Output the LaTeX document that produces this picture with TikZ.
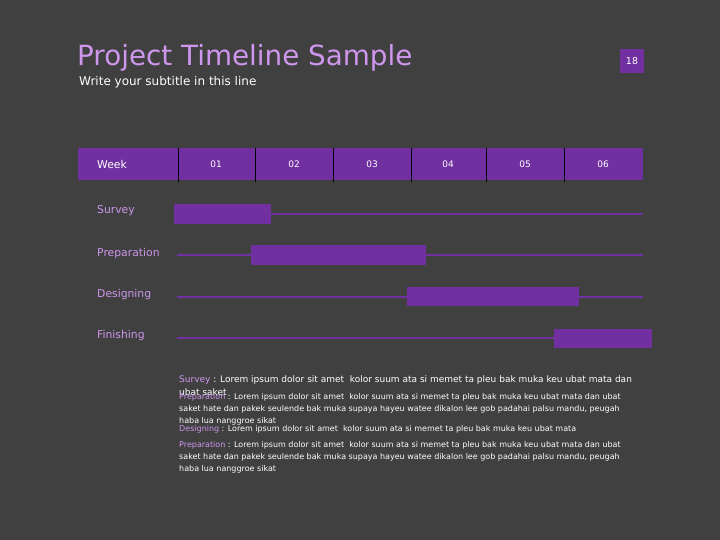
\documentclass[tikz,border=0pt]{standalone}
\usepackage{fontspec}
\setmainfont{DejaVu Sans}
\definecolor{bgdark}{RGB}{64,64,64}
\definecolor{taskpurple}{RGB}{112,48,160}
\definecolor{lilac}{RGB}{206,150,236}

\begin{document}
\begin{tikzpicture}[x=1pt,y=-1pt,
	weeklab/.style={text=white,font=\fontsize{9}{10}\selectfont,inner sep=0},
	tasklab/.style={anchor=base west,text=lilac,font=\fontsize{10.8}{12}\selectfont,inner sep=0},
	taskbar/.style={fill=taskpurple},
	taskline/.style={draw=taskpurple,line width=1.1pt},
	notes/.style={anchor=base west,text=white,inner sep=0,align=left}]
	\fill[bgdark] (0,0) rectangle (720,540);
	\useasboundingbox (0,0) rectangle (720,540);
	
	% title
	\node[anchor=base west,text=lilac,font=\fontsize{27.8}{30}\selectfont,inner sep=0] (title) at (77,66) {Project Timeline Sample};
	\node[anchor=base west,text=white,font=\fontsize{12}{14}\selectfont,inner sep=0] (subtitle) at (79,86) {Write your subtitle in this line};
	\node[fill=taskpurple,minimum width=24,minimum height=24,inner sep=0,text=white,font=\fontsize{9.5}{10}\selectfont] (pagenum) at (632,61) {18};
	
	% week header
	\fill[taskpurple] (78,148) rectangle (643,180);
	\foreach \x in {178,255,333,411,486,564}
		\draw[black,line width=0.6pt] (\x,148) -- (\x,182);
	\node[anchor=west,text=white,font=\fontsize{10.8}{12}\selectfont,inner sep=0] (week) at (97,164) {Week};
	\foreach \x/\w in {216/01,294/02,372/03,448/04,525/05,603/06}
		\node[weeklab] (w\w) at (\x,164) {\w};
	
	% tasks
	\node[tasklab] (survey) at (97,214) {Survey};
	\node[tasklab] (prep) at (97,256) {Preparation};
	\node[tasklab] (design) at (97,297) {Designing};
	\node[tasklab] (finish) at (97,338) {Finishing};
	
	\draw[taskline] (271,214) -- (643,214);
	\draw[taskline] (177,255) -- (643,255);
	\draw[taskline] (177,297) -- (643,297);
	\draw[taskline] (177,338) -- (643,338);
	
	\fill[taskbar] (174,204) rectangle (271,224);
	\fill[taskbar] (251,245) rectangle (426,265);
	\fill[taskbar] (407,287) rectangle (579,306);
	\fill[taskbar] (554,329) rectangle (652,348);
	
	% notes (anchored on the baseline of their last line)
	\node[notes,font=\fontsize{9}{13}\selectfont] (n1) at (179,395)
		{\textcolor{lilac}{Survey} : Lorem ipsum dolor sit amet\ \ kolor suum ata si memet ta pleu bak muka keu ubat mata dan\\ubat saket};
	\node[notes,font=\fontsize{8}{12}\selectfont] (n2) at (179,423)
		{\textcolor{lilac}{Preparation} : Lorem ipsum dolor sit amet\ \ kolor suum ata si memet ta pleu bak muka keu ubat mata dan ubat\\saket hate dan pakek seulende bak muka supaya hayeu watee dikalon lee gob padahai palsu mandu, peugah\\haba lua nanggroe sikat};
	\node[notes,font=\fontsize{8}{12}\selectfont] (n3) at (179,431)
		{\textcolor{lilac}{Designing} : Lorem ipsum dolor sit amet\ \ kolor suum ata si memet ta pleu bak muka keu ubat mata};
	\node[notes,font=\fontsize{8}{12}\selectfont] (n4) at (179,471)
		{\textcolor{lilac}{Preparation} : Lorem ipsum dolor sit amet\ \ kolor suum ata si memet ta pleu bak muka keu ubat mata dan ubat\\saket hate dan pakek seulende bak muka supaya hayeu watee dikalon lee gob padahai palsu mandu, peugah\\haba lua nanggroe sikat};
\end{tikzpicture}
\end{document}
